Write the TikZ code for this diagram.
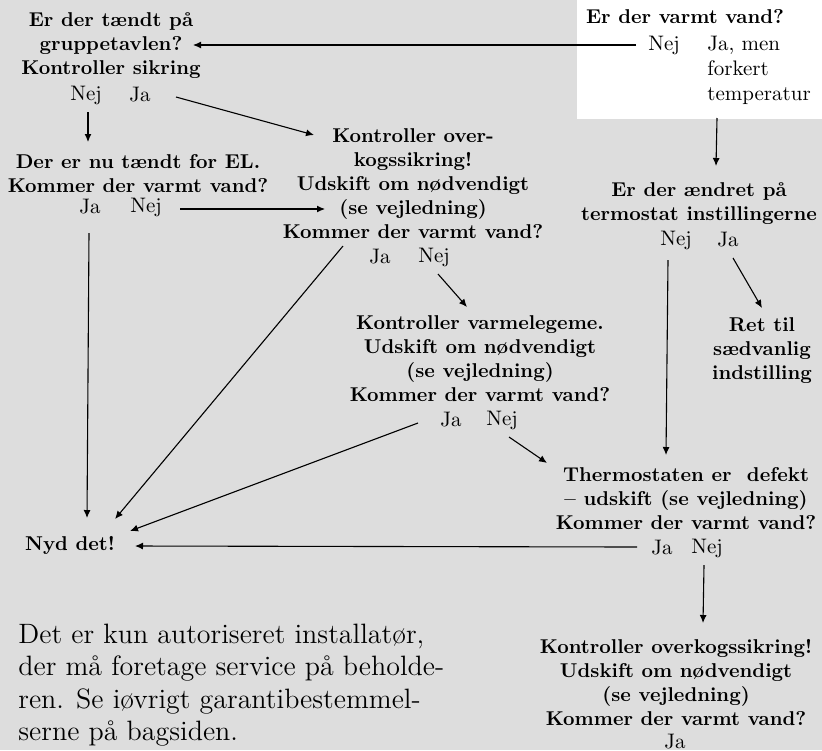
\documentclass[tikz,border=0pt]{standalone}
\usepackage{tikz}
\usetikzlibrary{arrows.meta, calc}
\definecolor{bund}{RGB}{221,221,221}
\tikzset{boks/.style = {font=\fontsize{10}{12}\selectfont\bfseries, align=center, inner sep=0pt}}
\tikzset{svar/.style = {font=\fontsize{10.5}{12.5}\selectfont, inner sep=0pt}}
\tikzset{tekst/.style = {font=\fontsize{14}{16.25}\selectfont, align=left, inner sep=0pt}}
\tikzset{pil/.style = {-{Latex[length=4pt, width=3.5pt]}, line width=0.55pt}}

\begin{document}
\begin{tikzpicture}[x=0.5pt, y=-0.5pt]
    \fill[bund] (0,0) rectangle (822,750);
    \fill[white] (577,0) rectangle (822,119);
    \useasboundingbox (0,0) rectangle (822,750);

    \node[boks] (A) at (111,46) {Er der tændt på\\gruppetavlen?\\Kontroller sikring};
    \node[svar] (An) at (86,95) {Nej};
    \node[svar] (Aj) at (140,95) {Ja};

    \node[boks] (B) at (685,17) {Er der varmt vand?};
    \node[svar] (Bn) at (664,45) {Nej};
    \node[svar, align=left, anchor=west] (Bj) at (707,70) {Ja, men\\forkert\\temperatur};

    \node[boks] (C) at (138,174) {Der er nu tændt for EL.\\Kommer der varmt vand?};
    \node[svar] (Cj) at (90,207) {Ja};
    \node[svar] (Cn) at (146,207) {Nej};

    \node[boks] (D) at (413,184) {Kontroller over-\\kogssikring!\\Udskift om nødvendigt\\(se vejledning)\\Kommer der varmt vand?};
    \node[svar] (Dj) at (380,257) {Ja};
    \node[svar] (Dn) at (434,257) {Nej};

    \node[boks] (E) at (699,204) {Er der ændret på\\termostat instillingerne};
    \node[svar] (En) at (676,240) {Nej};
    \node[svar] (Ej) at (728,240) {Ja};

    \node[boks] (F) at (762,351) {Ret til\\sædvanlig\\indstilling};

    \node[boks] (G) at (480,359) {Kontroller varmelegeme.\\Udskift om nødvendigt\\(se vejledning)\\Kommer der varmt vand?};
    \node[svar] (Gj) at (451,420) {Ja};
    \node[svar] (Gn) at (502,420) {Nej};

    \node[boks] (H) at (686,499) {Thermostaten er\ \ defekt\\– udskift (se vejledning)\\Kommer der varmt vand?};
    \node[svar] (Hj) at (662,548) {Ja};
    \node[svar] (Hn) at (707,548) {Nej};

    \node[boks] (I) at (70,545) {Nyd det!};

    \node[boks] (K) at (676,682) {Kontroller overkogssikring!\\Udskift om nødvendigt\\(se vejledning)\\Kommer der varmt vand?};
    \node[svar] (Kj) at (675,742) {Ja};

    \node[tekst, anchor=west] (L) at (18,685) {Det er kun autoriseret installatør,\\der må foretage service på beholde-\\ren. Se iøvrigt garantibestemmel-\\serne på bagsiden.};

    % svar -> naeste trin
    \draw[pil] ($(Bn)+(-28,0)$) -- ($(A |- Bn)+(82,0)$);
    \draw[pil] ($(An)+(2,17)$) -- ($(C)+(-50,-32)$);
    \draw[pil] ($(Aj)+(36,2)$) -- ($(D)+(-99,-49)$);
    \draw[pil] ($(Cn)+(34,2)$) -- ($(D)+(-88,25)$);
    \draw[pil] ($(Cj)+(-1,26)$) -- ($(I)+(17,-27)$);
    \draw[pil] ($(Dj)+(-37,-11)$) -- ($(I)+(45,-26)$);
    \draw[pil] ($(Dn)+(4,17)$) -- ($(G)+(-13,-52)$);
    \draw[pil] ($(Bj.west)+(10,48)$) -- ($(E)+(17,-38)$);
    \draw[pil] ($(En)+(-8,20)$) -- ($(H)+(-20,-44)$);
    \draw[pil] ($(Ej)+(5,18)$) -- ($(F)+(0,-43)$);
    \draw[pil] ($(Gj)+(-33,3)$) -- ($(I)+(60,-14)$);
    \draw[pil] ($(Gn)+(7,17)$) -- ($(H)+(-139,-36)$);
    \draw[pil] ($(Hj)+(-25,-1)$) -- ($(I)+(65,1)$);
    \draw[pil] ($(Hn)+(-3,17)$) -- ($(K)+(27,-59)$);
\end{tikzpicture}
\end{document}
